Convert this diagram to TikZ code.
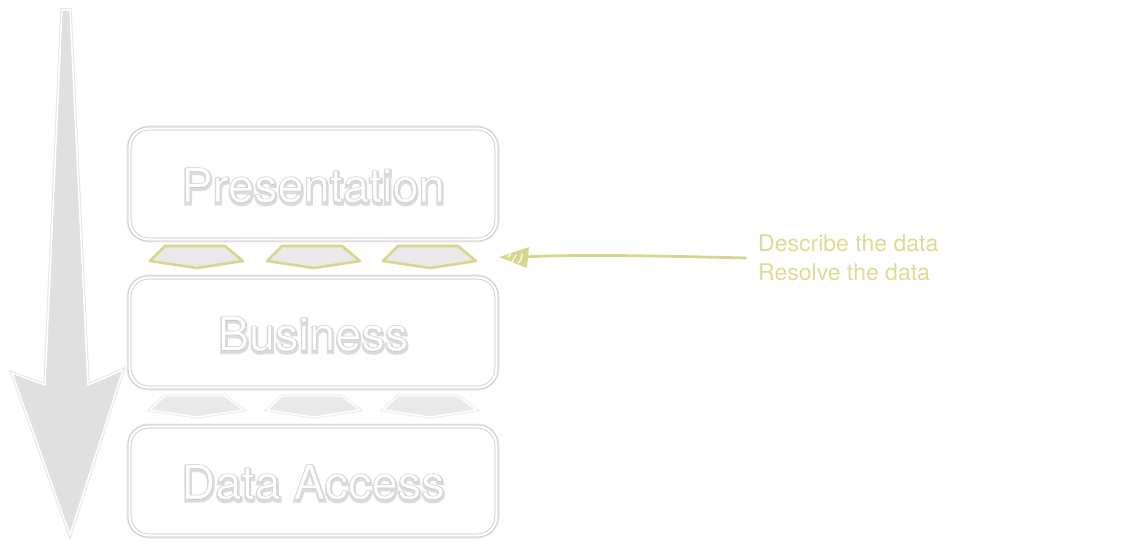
\documentclass[tikz,border=0pt]{standalone}
\usepackage{fontspec}
\setmainfont{TeX Gyre Heros}
\usetikzlibrary{calc}
\definecolor{yel}{RGB}{216,214,140}
\definecolor{yeltext}{RGB}{221,219,150}
\definecolor{arrowgray}{RGB}{224,224,224}
\definecolor{pentfill}{RGB}{233,233,233}
\newcommand\shd[1]{\special{pdf:literal direct 2 Tr 3.2 w 0.86 0.86 0.86 RG}#1\special{pdf:literal direct 0 Tr}}
\newcommand\outl[1]{\special{pdf:literal direct 2 Tr 0.5 w 0.8 0.8 0.8 RG}#1\special{pdf:literal direct 0 Tr}}
\begin{document}
\begin{tikzpicture}[x=1pt,y=-1pt,
  layer/.style={rounded corners=19pt, draw=black!24, double=white, double distance=2.4pt,
    line width=0.7pt, minimum width=367pt, inner sep=0pt, fill=white,
    preaction={draw=black!8, line width=6pt}},
  lbl/.style={font=\fontsize{47}{47}\selectfont, text=white, anchor=base, inner sep=0pt},
  lblsh/.style={font=\fontsize{47}{47}\selectfont, text=black!38, anchor=base, inner sep=0pt},
  penttop/.style={fill=pentfill, draw=yel, line width=2.6pt, line join=round},
  pentbot/.style={fill=pentfill, draw=white, line width=1.4pt, line join=round,
    preaction={draw=black!7, line width=3.5pt}},
  bigarrow/.style={fill=arrowgray, draw=white, line width=1.5pt, line join=round,
    preaction={draw=black!10, line width=3.5pt}},
  note/.style={font=\fontsize{23}{29}\selectfont, text=yeltext, align=left, anchor=west,
    inner xsep=12pt, inner ysep=0pt}
]
\useasboundingbox (0,0) rectangle (1124,553);

% big downward arrow
\draw[bigarrow] (62,10) -- (70,10) -- (88,385) -- (123,370) -- (70,535) -- (12,373) -- (45,385) -- cycle;

% layer boxes
\node[layer, minimum height=111pt] (pres) at (313,184) {};
\node[layer, minimum height=110pt] (bus) at (313,332.5) {};
\node[layer, minimum height=109pt] (data) at (313,481) {};

% label shadows
\node[lblsh] (psh) at (313.5,204) {\shd{Presentation}};
\node[lblsh] (bsh) at (313.5,352.5) {\shd{Business}};
\node[lblsh] (dsh) at (313.5,501) {\shd{Data Access}};
% labels
\node[lbl] (ptxt) at (313,202) {\outl{Presentation}};
\node[lbl] (btxt) at (313,350.5) {\outl{Business}};
\node[lbl] (dtxt) at (313,499) {\outl{Data Access}};

% connectors between layers (pentagons)
\foreach \dx [count=\i] in {0,117,233} {
  \draw[penttop] (165+\dx,246) -- (225+\dx,246) -- (243+\dx,261) -- (197+\dx,268) -- (150+\dx,261) -- cycle;
  \draw[pentbot] (165+\dx,396) -- (225+\dx,396) -- (243+\dx,410) -- (197+\dx,417) -- (150+\dx,410) -- cycle;
}

% annotation
\node[note] (ann) at (746,258) {Describe the data\\Resolve the data};
\coordinate (tip) at (499,257);
\coordinate (hb) at (524,257);
\draw[yel, line width=2.8pt, line cap=round] (ann.west) .. controls (660,256) and (580,254) .. (hb);
\fill[yel] (tip) -- (529,247) -- (527,268) -- cycle;
\draw[white, line width=1.1pt, line cap=round] (508,257) -- (511,254) (512,262) -- (516,255) (518,263) .. controls (521,260) .. (522,254);
\end{tikzpicture}
\end{document}
